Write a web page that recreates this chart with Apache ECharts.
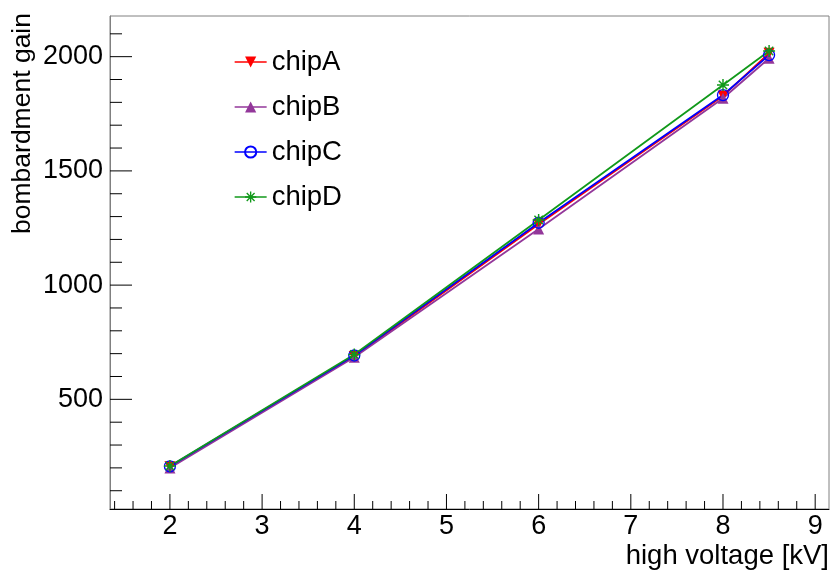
<!DOCTYPE html>
<html>
<head>
<meta charset="utf-8">
<script src="https://cdn.jsdelivr.net/npm/echarts@6/dist/echarts.min.js"></script>
<style>
  html, body { margin: 0; padding: 0; background: #fff; }
  #chart { width: 832px; height: 572px; }
</style>
</head>
<body>
<div id="chart"></div>
<script>
  // data
  const voltage = [2, 4, 6, 8, 8.5]
  const chipA = [205, 688, 1266, 1828, 2015]
  const chipB = [200, 684, 1246, 1818, 1993]
  const chipC = [207, 692, 1273, 1832, 2007]
  const chipD = [208, 696, 1285, 1876, 2025]
  const names = ['chipA', 'chipB', 'chipC', 'chipD']

  const xMajor = [2, 3, 4, 5, 6, 7, 8, 9]
  const yMajor = [500, 1000, 1500, 2000]

  const X_MIN = 1.35
  const X_MAX = 9.15
  const Y_MIN = 20
  const Y_MAX = 2178
  const font = 'Liberation Sans, Arial, Helvetica, sans-serif'

  // ROOT style star marker (*)
  const starPath = 'path://M-10,-1.2L10,-1.2L10,1.2L-10,1.2Z' +
    'M-1.2,-10L1.2,-10L1.2,10L-1.2,10Z' +
    'M-6.15,-7.85L7.85,6.15L6.15,7.85L-7.85,-6.15Z' +
    'M-7.85,6.15L6.15,-7.85L7.85,-6.15L-6.15,7.85Z'

  // tick marks, drawn inward like ROOT: [value, kind]
  // kind 0 = x major, 1 = x minor, 2 = y major, 3 = y minor
  let ticks = []
  for (let i = 7; i <= 45; i++) {
    let v = Math.round(i * 2) / 10
    ticks.push([v, xMajor.indexOf(v) >= 0 ? 0 : 1])
  }
  for (let v = 100; v <= 2100; v += 100) {
    ticks.push([v, yMajor.indexOf(v) >= 0 ? 2 : 3])
  }
  const tickLen = [15, 8, 22, 12]

  function pairs(ys) {
    return voltage.map((x, i) => [x, ys[i]])
  }

  function lineSeries(name, ys, color, symbol, size, itemStyle, extra) {
    return Object.assign({
      name: name,
      type: 'line',
      data: pairs(ys),
      symbol: symbol,
      symbolSize: size,
      lineStyle: { color: color, width: 1.8 },
      itemStyle: itemStyle || { color: color, borderWidth: 0 },
      z: 3
    }, extra || {})
  }

  const chart = echarts.init(document.getElementById('chart'))
  chart.setOption({
    animation: false,
    backgroundColor: '#fff',
    textStyle: { fontFamily: font },
    grid: {
      left: 110,
      right: 3,
      top: 16,
      bottom: 63,
      show: true,
      borderColor: '#808080',
      borderWidth: 1
    },
    legend: {
      data: names,
      orient: 'vertical',
      left: 234,
      top: 48,
      padding: 0,
      itemGap: 17,
      itemWidth: 32,
      itemHeight: 14,
      lineStyle: { width: 1.3 },
      textStyle: { fontSize: 27.5, color: '#000', fontFamily: font }
    },
    xAxis: {
      type: 'value',
      min: X_MIN,
      max: X_MAX,
      splitNumber: 8,
      splitLine: { show: false },
      axisTick: { show: false },
      axisLine: { lineStyle: { color: '#000', width: 1 } },
      axisLabel: {
        margin: 4,
        fontSize: 27,
        color: '#000',
        fontFamily: font,
        showMinLabel: false,
        showMaxLabel: false,
        formatter: v => xMajor.indexOf(v) >= 0 ? String(v) : ''
      }
    },
    yAxis: {
      type: 'value',
      min: Y_MIN,
      max: Y_MAX,
      splitNumber: 4,
      splitLine: { show: false },
      axisTick: { show: false },
      axisLine: { show: true, lineStyle: { color: '#808080', width: 1 } },
      axisLabel: {
        margin: 7,
        fontSize: 27,
        color: '#000',
        fontFamily: font,
        showMinLabel: false,
        showMaxLabel: false,
        formatter: v => yMajor.indexOf(v) >= 0 ? String(v) : ''
      }
    },
    graphic: [
      {
        type: 'text',
        x: 23,
        y: 13,
        rotation: Math.PI / 2,
        style: {
          text: 'bombardment gain',
          font: '26.5px ' + font,
          fill: '#000',
          align: 'right',
          verticalAlign: 'middle'
        }
      },
      {
        type: 'text',
        x: 829,
        y: 556,
        style: {
          text: 'high voltage [kV]',
          font: '27.5px ' + font,
          fill: '#000',
          align: 'right',
          verticalAlign: 'middle'
        }
      }
    ],
    series: [
      lineSeries('chipA', chipA, '#ff0000', 'triangle', 11, null, { symbolRotate: 180 }),
      lineSeries('chipB', chipB, '#93379a', 'triangle', 11),
      // open circle: no fill so the markers underneath stay visible
      lineSeries('chipC', chipC, '#0000ff', 'circle', 11,
        { color: 'rgba(255,255,255,0)', borderColor: '#0000ff', borderWidth: 1.3 }),
      lineSeries('chipD', chipD, '#11991a', starPath, 12),
      {
        name: 'ticks',
        type: 'custom',
        silent: true,
        clip: false,
        z: 1,
        data: ticks,
        renderItem: function (params, api) {
          let v = api.value(0)
          let k = api.value(1)
          let len = tickLen[k]
          let p, shape
          if (k < 2) {
            p = api.coord([v, Y_MIN])
            shape = { x1: p[0], y1: p[1], x2: p[0], y2: p[1] - len }
          } else {
            // second value is the tick kind, so use the value as y here
            p = api.coord([X_MIN, v])
            shape = { x1: p[0], y1: p[1], x2: p[0] + len, y2: p[1] }
          }
          return {
            type: 'line',
            shape: shape,
            style: { stroke: '#000', lineWidth: 1 }
          }
        }
      }
    ]
  })
</script>
</body>
</html>
